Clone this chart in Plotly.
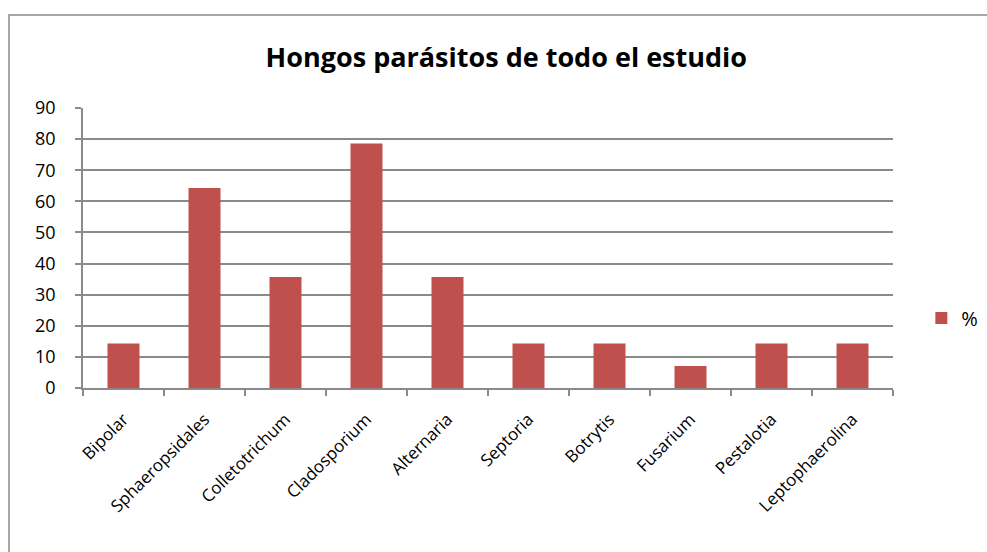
import plotly.graph_objects as go

categories = ["Bipolar", "Sphaeropsidales", "Colletotrichum", "Cladosporium", "Alternaria",
              "Septoria", "Botrytis", "Fusarium", "Pestalotia", "Leptophaerolina"]
values = [14.3, 64.3, 35.7, 78.6, 35.7, 14.3, 14.3, 7.1, 14.3, 14.3]
series_name = "%"
title_text = "Hongos parásitos de todo el estudio"

FONT = "Open Sans"
GRID = "#8a8a8a"

fig = go.Figure()
fig.add_trace(go.Bar(x=categories, y=values, name=series_name,
                     marker=dict(color="#C0504D", line=dict(width=0)),
                     showlegend=True))

fig.update_layout(
    width=987, height=552,
    margin=dict(l=83, r=94, t=108, b=164, pad=0, autoexpand=False),
    paper_bgcolor="white", plot_bgcolor="white",
    bargap=0.605,
    title=dict(text="<b>" + title_text + "</b>", x=0.513, xanchor="center",
               y=0.896, yanchor="middle",
               font=dict(family=FONT, size=27, color="black")),
    font=dict(family=FONT, color="black"),
    legend=dict(x=1.035, y=0.25, xanchor="left", yanchor="middle",
                font=dict(family=FONT, size=20, color="black"),
                bgcolor="rgba(0,0,0,0)", itemwidth=30),
    xaxis=dict(type="category", showgrid=False, showline=True, linecolor=GRID, linewidth=1.5,
               ticks="outside", tickson="boundaries", ticklen=6, tickcolor=GRID, tickwidth=1.5,
               tickangle=-45, ticklabelstandoff=13,
               tickfont=dict(family=FONT, size=17, color="black")),
    yaxis=dict(range=[0, 90], dtick=10, showgrid=True, gridcolor=GRID, gridwidth=1.5,
               showline=True, linecolor=GRID, linewidth=1.5, zeroline=False,
               ticks="outside", ticklen=6, tickcolor=GRID, tickwidth=1.5,
               ticklabelstandoff=16,
               tickfont=dict(family=FONT, size=18, color="black")),
    shapes=[dict(type="rect", xref="paper", yref="paper",
                 x0=(9 - 83) / 810, x1=1.2, y0=-0.8, y1=(388 - 15) / 280,
                 line=dict(color="#8a8a8a", width=1.5), fillcolor="rgba(0,0,0,0)", layer="below")],
)

fig.write_html("out.html")
